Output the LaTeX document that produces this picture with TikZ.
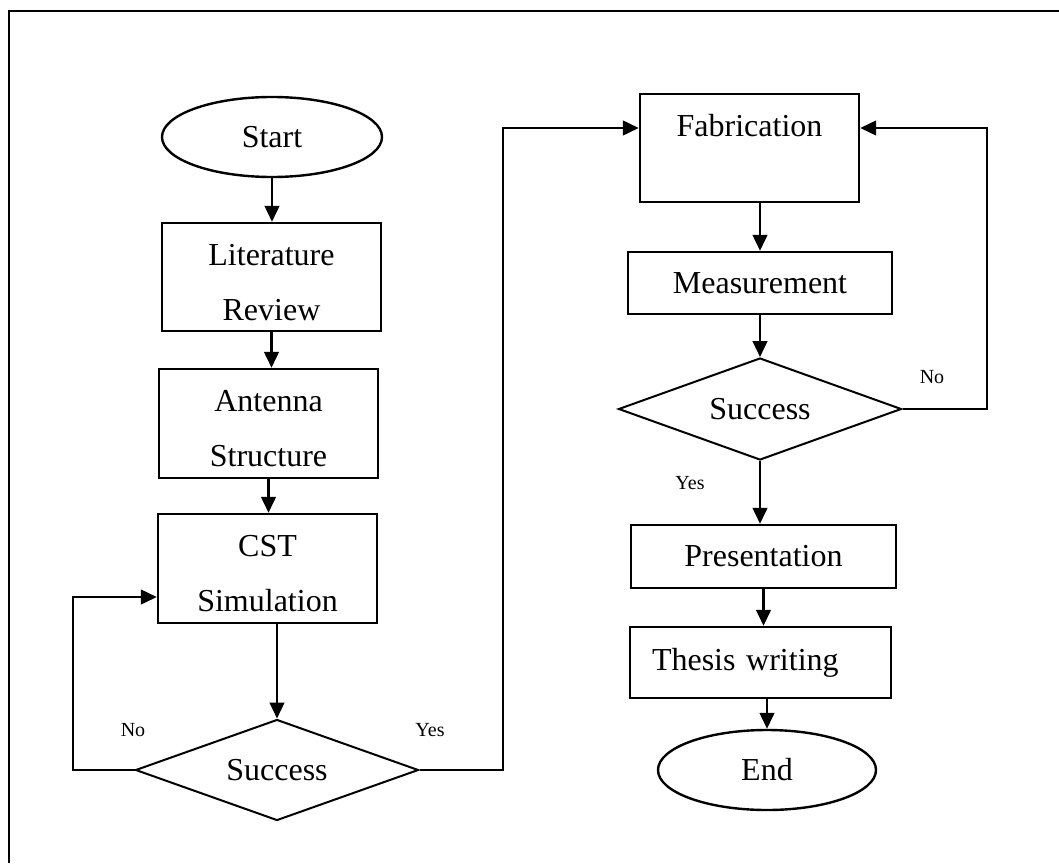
\documentclass[tikz,border=0pt]{standalone}
\usepackage{fontspec}
\setmainfont{Liberation Serif}
\usetikzlibrary{shapes.geometric,arrows.meta,calc}
\newcommand{\topstrut}{\rule{0pt}{24pt}}
\tikzset{
  lw/.style={line width=1.8pt},
  box/.style={draw,lw,rectangle,inner sep=0pt,align=center,font=\fontsize{24}{41.25}\selectfont},
  oval/.style={draw,lw,ellipse,inner sep=0pt,font=\fontsize{24}{30}\selectfont},
  decision/.style={draw,line width=1.5pt,diamond,inner sep=0pt,shape aspect=2.8,font=\fontsize{24}{30}\selectfont},
  arr/.style={lw,-{Triangle[length=12pt,width=11pt]}},
  lbl/.style={inner sep=0pt,font=\fontsize{15}{18}\selectfont}
}
\begin{document}
\begin{tikzpicture}[x=0.75pt,y=-0.75pt]
\useasboundingbox (0,0) rectangle (1059,863);
\draw[lw] (9,863) -- (9,11) -- (1059,11);
% left column
\node[oval,minimum width=165pt,minimum height=60pt] (start) at (272,137) {Start};
\node[box,minimum width=164.25pt,minimum height=81pt] (lit) at (271.5,277) {\topstrut Literature\\Review};
\node[box,minimum width=164.25pt,minimum height=81.75pt] (ant) at (268.5,423.5) {\topstrut Antenna\\Structure};
\node[box,minimum width=164.25pt,minimum height=81.75pt] (cst) at (267.5,568.5) {\topstrut CST\\Simulation};
\node[decision,minimum width=212.25pt,minimum height=75.75pt] (dia1) at (277,770) {Success};
% right column
\node[box,minimum width=164.25pt,minimum height=81pt] (fab) at (749.5,148) {\topstrut Fabrication\\~};
\node[box,minimum width=198pt,minimum height=46.5pt] (meas) at (760,283) {Measurement};
\node[decision,minimum width=212.25pt,minimum height=76.5pt] (dia2) at (760,409) {Success};
\node[box,minimum width=198.75pt,minimum height=47.25pt] (pres) at (763.5,556.5) {Presentation};
\node[box,minimum width=195.75pt,minimum height=53.25pt,text width=162.75pt,inner xsep=16.5pt,align=left] (thesis) at (760.5,662.5) {Thesis writing};
\node[oval,minimum width=163.5pt,minimum height=60pt] (end) at (767,770) {End};
% labels
\node[lbl] (no1) at (133,730) {No};
\node[lbl] (yes1) at (430,730) {Yes};
\node[lbl] (no2) at (932,377) {No};
\node[lbl] (yes2) at (690,483) {Yes};
% vertical arrows
\draw[arr] (start.south) -- (start.south |- lit.north);
\draw[arr] (lit.south) -- (lit.south |- ant.north);
\draw[arr] (ant.south) -- (ant.south |- cst.north);
\draw[arr] (dia1.north |- cst.south) -- (dia1.north);
\draw[arr] (meas.north |- fab.south) -- (meas.north);
\draw[arr] (meas.south) -- (dia2.north);
\draw[arr] (dia2.south) -- (dia2.south |- pres.north);
\draw[arr] (pres.south) -- (pres.south |- thesis.north);
\draw[arr] (end.north |- thesis.south) -- (end.north);
% loops
\coordinate (l1) at (73,597);
\coordinate (r1) at (503,128);
\coordinate (r2) at (987,128);
\draw[arr] (dia1.west) -| (l1) -- (l1 -| cst.west);
\draw[arr] (dia1.east) -| (r1) -- (r1 -| fab.west);
\draw[arr] (dia2.east) -| (r2) -- (r2 -| fab.east);
\end{tikzpicture}
\end{document}
